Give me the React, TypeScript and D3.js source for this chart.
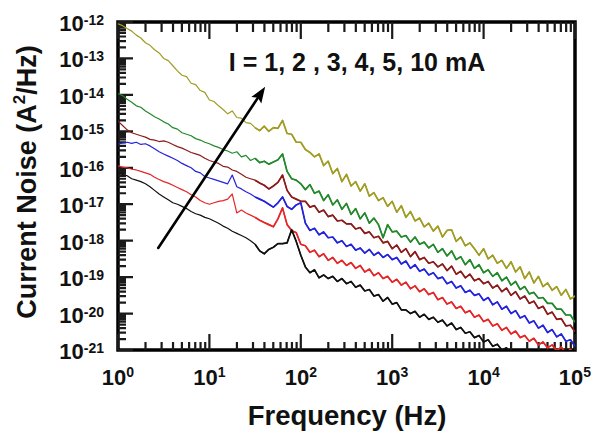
import React from 'react';
import * as d3 from 'd3';

// Frequency sampling (log10 of Hz)
const freqLog10 = [
  0, 0.05, 0.1, 0.15, 0.2, 0.25, 0.3, 0.35, 0.4, 0.45,
  0.5, 0.55, 0.6, 0.65, 0.7, 0.75, 0.8, 0.85, 0.9, 0.95,
  1.0, 1.05, 1.1, 1.15, 1.2, 1.25, 1.3, 1.35, 1.4, 1.45,
  1.5, 1.55, 1.6, 1.65, 1.7, 1.75, 1.8, 1.85, 1.9, 1.95,
  2.0, 2.05, 2.1, 2.15, 2.2, 2.25, 2.3, 2.35, 2.4, 2.45,
  2.5, 2.55, 2.6, 2.65, 2.7, 2.75, 2.8, 2.85, 2.9, 2.95,
  3.0, 3.05, 3.1, 3.15, 3.2, 3.25, 3.3, 3.35, 3.4, 3.45,
  3.5, 3.55, 3.6, 3.65, 3.7, 3.75, 3.8, 3.85, 3.9, 3.95,
  4.0, 4.05, 4.1, 4.15, 4.2, 4.25, 4.3, 4.35, 4.4, 4.45,
  4.5, 4.55, 4.6, 4.65, 4.7, 4.75, 4.8, 4.85, 4.9, 4.95,
  5.0,
];

// Current noise, log10(A^2/Hz)
const noise1mA = [
  -16.14, -16.18, -16.22, -16.30, -16.34, -16.38, -16.44, -16.52, -16.62, -16.72, -16.80,
  -16.88, -16.96, -17.00, -17.06, -17.12, -17.20, -17.26, -17.30, -17.36, -17.40,
  -17.46, -17.52, -17.60, -17.66, -17.74, -17.80, -17.86, -17.92, -18.00, -18.10,
  -18.28, -18.36, -18.24, -18.18, -18.08, -18.08, -18.06, -17.70, -18.02, -18.40,
  -18.72, -18.88, -18.80, -19.02, -18.94, -19.04, -18.98, -19.12, -19.04, -19.18,
  -19.12, -19.28, -19.22, -19.38, -19.34, -19.52, -19.48, -19.66, -19.56, -19.74,
  -19.70, -19.90, -19.90, -20.00, -19.94, -20.10, -20.02, -20.16, -20.10, -20.24,
  -20.18, -20.34, -20.26, -20.44, -20.38, -20.54, -20.50, -20.66, -20.60, -20.78,
  -20.72, -20.90, -20.84, -21.00, -20.94, -21.10, -21.04, -21.20, -21.14, -21.30,
  -21.28, -21.32, -21.36, -21.40, -21.44, -21.48, -21.52, -21.56, -21.60, -21.64,
];
const noise2mA = [
  -15.95, -15.98, -16.00, -16.04, -16.06, -16.10, -16.14, -16.18, -16.26, -16.32, -16.38,
  -16.42, -16.48, -16.54, -16.60, -16.66, -16.74, -16.80, -16.90, -16.96, -17.00,
  -16.96, -16.92, -16.90, -16.86, -16.72, -17.24, -17.16, -17.24, -17.30, -17.36,
  -17.44, -17.50, -17.56, -17.62, -17.40, -17.10, -17.56, -17.72, -17.78, -18.10,
  -18.14, -18.32, -18.26, -18.44, -18.36, -18.54, -18.46, -18.62, -18.54, -18.68,
  -18.60, -18.76, -18.68, -18.86, -18.78, -18.96, -18.88, -19.04, -18.98, -19.14,
  -19.06, -19.22, -19.14, -19.32, -19.24, -19.40, -19.32, -19.48, -19.42, -19.62,
  -19.56, -19.74, -19.68, -19.86, -19.80, -19.98, -19.92, -20.10, -20.04, -20.22,
  -20.16, -20.34, -20.28, -20.46, -20.38, -20.56, -20.48, -20.66, -20.60, -20.76,
  -20.68, -20.86, -20.78, -20.94, -20.86, -21.02, -20.92, -21.08, -20.98, -21.12,
];
const noise3mA = [
  -15.35, -15.32, -15.30, -15.33, -15.30, -15.36, -15.34, -15.40, -15.48, -15.56, -15.62,
  -15.68, -15.74, -15.80, -15.88, -15.94, -16.00, -16.10, -16.14, -16.24, -16.28,
  -16.32, -16.36, -16.40, -16.44, -16.20, -16.52, -16.58, -16.66, -16.72, -16.80,
  -16.86, -16.92, -17.00, -17.08, -16.96, -16.80, -17.06, -17.14, -17.02, -16.96,
  -17.52, -17.72, -17.66, -17.84, -17.76, -17.92, -17.90, -18.06, -18.00, -18.16,
  -18.10, -18.26, -18.20, -18.34, -18.24, -18.40, -18.32, -18.46, -18.38, -18.52,
  -18.46, -18.64, -18.56, -18.76, -18.66, -18.84, -18.78, -18.94, -18.88, -19.04,
  -19.00, -19.18, -19.12, -19.30, -19.24, -19.42, -19.36, -19.50, -19.46, -19.64,
  -19.56, -19.76, -19.68, -19.88, -19.80, -20.00, -19.92, -20.12, -20.06, -20.26,
  -20.20, -20.40, -20.32, -20.52, -20.44, -20.64, -20.56, -20.76, -20.72, -20.90,
];
const noise4mA = [
  -14.72, -14.84, -14.96, -15.04, -15.08, -15.12, -15.16, -15.22, -15.24, -15.28, -15.26,
  -15.30, -15.36, -15.42, -15.46, -15.52, -15.58, -15.62, -15.66, -15.74, -15.80,
  -15.84, -15.88, -15.96, -15.98, -16.06, -16.10, -16.18, -16.26, -16.30, -16.34,
  -16.42, -16.48, -16.58, -16.50, -16.40, -16.20, -16.62, -16.80, -16.86, -16.92,
  -16.92, -17.08, -17.04, -17.22, -17.16, -17.34, -17.30, -17.46, -17.44, -17.54,
  -17.54, -17.68, -17.64, -17.80, -17.76, -17.92, -17.88, -18.06, -18.02, -18.22,
  -18.12, -18.32, -18.22, -18.44, -18.30, -18.52, -18.46, -18.62, -18.58, -18.72,
  -18.64, -18.82, -18.70, -18.92, -18.84, -19.02, -18.92, -19.10, -19.04, -19.18,
  -19.12, -19.30, -19.22, -19.40, -19.30, -19.50, -19.40, -19.60, -19.52, -19.72,
  -19.66, -19.86, -19.80, -20.02, -19.96, -20.16, -20.14, -20.34, -20.32, -20.50,
];
const noise5mA = [
  -13.96, -14.02, -14.12, -14.20, -14.30, -14.34, -14.44, -14.52, -14.60, -14.66, -14.74,
  -14.80, -14.90, -14.94, -15.04, -15.08, -15.12, -15.20, -15.24, -15.30, -15.34,
  -15.40, -15.44, -15.50, -15.54, -15.60, -15.56, -15.70, -15.66, -15.80, -15.74,
  -15.86, -15.82, -15.90, -15.84, -15.78, -15.62, -16.10, -16.30, -16.34, -16.44,
  -16.60, -16.46, -16.70, -16.64, -16.90, -16.74, -17.02, -16.88, -17.14, -16.98,
  -17.28, -17.12, -17.40, -17.24, -17.52, -17.38, -17.56, -17.92, -17.56, -17.76,
  -17.74, -17.90, -17.86, -18.04, -17.90, -18.10, -18.04, -18.20, -18.10, -18.32,
  -18.22, -18.42, -18.28, -18.52, -18.44, -18.66, -18.52, -18.76, -18.66, -18.88,
  -18.80, -18.98, -18.88, -19.10, -19.00, -19.22, -19.12, -19.34, -19.26, -19.46,
  -19.42, -19.58, -19.56, -19.72, -19.72, -19.88, -19.88, -20.04, -20.04, -20.24,
];
const noise10mA = [
  -12.05, -12.10, -12.18, -12.25, -12.36, -12.44, -12.57, -12.64, -12.76, -12.85, -13.00,
  -13.06, -13.20, -13.34, -13.46, -13.50, -13.68, -13.72, -13.88, -13.93, -14.14,
  -14.18, -14.30, -14.40, -14.52, -14.44, -14.62, -14.64, -14.76, -14.78, -14.90,
  -14.98, -14.86, -15.00, -14.90, -14.92, -14.70, -15.06, -15.08, -15.30, -15.30,
  -15.50, -15.58, -15.70, -15.62, -15.94, -15.82, -16.16, -16.02, -16.38, -16.18,
  -16.50, -16.38, -16.64, -16.44, -16.78, -16.68, -16.90, -16.82, -17.06, -16.92,
  -17.22, -17.04, -17.36, -17.20, -17.46, -17.38, -17.62, -17.52, -17.74, -17.60,
  -17.90, -17.72, -17.70, -18.02, -17.90, -18.14, -18.06, -18.22, -18.40, -18.22,
  -18.50, -18.40, -18.62, -18.54, -18.76, -18.58, -18.86, -18.72, -19.04, -18.86,
  -19.16, -18.98, -19.26, -19.16, -19.36, -19.26, -19.50, -19.34, -19.60, -19.52,
];

const seriesLabels = ['1 mA', '2 mA', '3 mA', '4 mA', '5 mA', '10 mA'];
const seriesColors = ['#111111', '#e52626', '#2424dc', '#8c1c1c', '#23892c', '#a09c24'];
const xDecades = [0, 1, 2, 3, 4, 5];
const yDecades = [-21, -20, -19, -18, -17, -16, -15, -14, -13, -12];
const minorSteps = [2, 3, 4, 5, 6, 7, 8, 9];
const annotationText = 'I = 1, 2 , 3, 4, 5, 10 mA';
// arrow endpoints in data units: [log10 f, log10 S]
const arrowFrom = [0.44, -18.2];
const arrowTo = [1.61, -13.78];

const W = 594, H = 434;
const L = 118, R = 575, T = 22, B = 350;
const FONT = "'Liberation Sans', Arial, Helvetica, sans-serif";

export default function App() {
  const x = d3.scaleLog().domain([1, 1e5]).range([L, R]);
  const y = d3.scaleLog().domain([1e-21, 1e-12]).range([B, T]);

  const allSeries = [noise1mA, noise2mA, noise3mA, noise4mA, noise5mA, noise10mA];
  const lineGen = d3
    .line<[number, number]>()
    .x((d) => x(Math.pow(10, d[0])))
    .y((d) => y(Math.pow(10, d[1])));

  const tp = d3.path();
  const addX = (v: number, major: boolean) => {
    const px = x(v);
    tp.moveTo(px, B);
    tp.lineTo(px, B - (major ? 16 : 8));
    tp.moveTo(px, T);
    tp.lineTo(px, T + (major ? 17 : 10));
  };
  xDecades.forEach((e) => {
    addX(Math.pow(10, e), true);
    if (e < 5) minorSteps.forEach((k) => addX(k * Math.pow(10, e), false));
  });
  const xTickPath = tp.toString();
  const yp = d3.path();
  yDecades.forEach((e) => {
    const py = y(Math.pow(10, e));
    yp.moveTo(L, py);
    yp.lineTo(L + 15, py);
    if (e < -12)
      minorSteps.forEach((k) => {
        const q = y(k * Math.pow(10, e));
        yp.moveTo(L, q);
        yp.lineTo(L + 8, q);
      });
  });
  const yTickPath = yp.toString();

  const ax0 = x(Math.pow(10, arrowFrom[0]));
  const ay0 = y(Math.pow(10, arrowFrom[1]));
  const ax1 = x(Math.pow(10, arrowTo[0]));
  const ay1 = y(Math.pow(10, arrowTo[1]));
  const dx = ax1 - ax0, dy = ay1 - ay0;
  const len = Math.hypot(dx, dy);
  const ux = dx / len, uy = dy / len;
  const headL = 16, headW = 6;
  const bx = ax1 - ux * headL, by = ay1 - uy * headL;
  const head = `${ax1},${ay1} ${bx - uy * headW},${by + ux * headW} ${bx + ux * 3},${by + uy * 3} ${bx + uy * headW},${by - ux * headW}`;

  const order = [5, 4, 3, 2, 1, 0];

  return (
    <svg width={W} height={H} style={{ position: 'absolute', left: 0, top: 0 }}>
      <rect x={L} y={T} width={R - L} height={B - T} fill="none" stroke="#000" strokeWidth={3.5} />
      <path d={xTickPath} fill="none" stroke="#1a1a1a" strokeWidth={2.2} />
      <path d={yTickPath} fill="none" stroke="#1a1a1a" strokeWidth={2.2} />
      <defs>
        <clipPath id="noiseClip">
          <rect x={L} y={T} width={R - L} height={B - T} />
        </clipPath>
      </defs>
      <g clipPath="url(#noiseClip)">
        {order.map((i) => {
          const pts = freqLog10.map((f, j) => [f, allSeries[i][j]] as [number, number]);
          return (
            <g key={seriesLabels[i]}>
              <path d={lineGen(pts) || ''} fill="none" stroke={seriesColors[i]} strokeWidth={1.2} strokeLinejoin="round" />
              <path
                d={lineGen(pts.filter((p) => p[0] >= 1.5)) || ''}
                fill="none"
                stroke={seriesColors[i]}
                strokeWidth={1.7}
                strokeLinejoin="round"
              />
            </g>
          );
        })}
      </g>
      <g fontFamily={FONT} fontWeight="bold" fill="#111">
        {xDecades.map((e) => (
          <text key={'xl' + e} x={x(Math.pow(10, e))} y={385} textAnchor="middle" fontSize={22}>
            10<tspan dy={-8} fontSize={14}>{e}</tspan>
          </text>
        ))}
        {yDecades.map((e) => (
          <text key={'yl' + e} x={104} y={y(Math.pow(10, e)) + 9} textAnchor="end" fontSize={22}>
            10<tspan dy={-6} fontSize={14}>{e}</tspan>
          </text>
        ))}
        <text x={347} y={425} textAnchor="middle" fontSize={27.5}>
          Frequency (Hz)
        </text>
        <text transform="translate(36,182) rotate(-90)" textAnchor="middle" fontSize={27}>
          Current Noise (A<tspan dy={-11} fontSize={17}>2</tspan>
          <tspan dy={11}>/Hz)</tspan>
        </text>
        <text x={357} y={71} textAnchor="middle" fontSize={25}>
          {annotationText}
        </text>
      </g>
      <line x1={ax0} y1={ay0} x2={bx + ux * 4} y2={by + uy * 4} stroke="#000" strokeWidth={2.6} strokeLinecap="round" />
      <polygon points={head} fill="#000" />
    </svg>
  );
}
